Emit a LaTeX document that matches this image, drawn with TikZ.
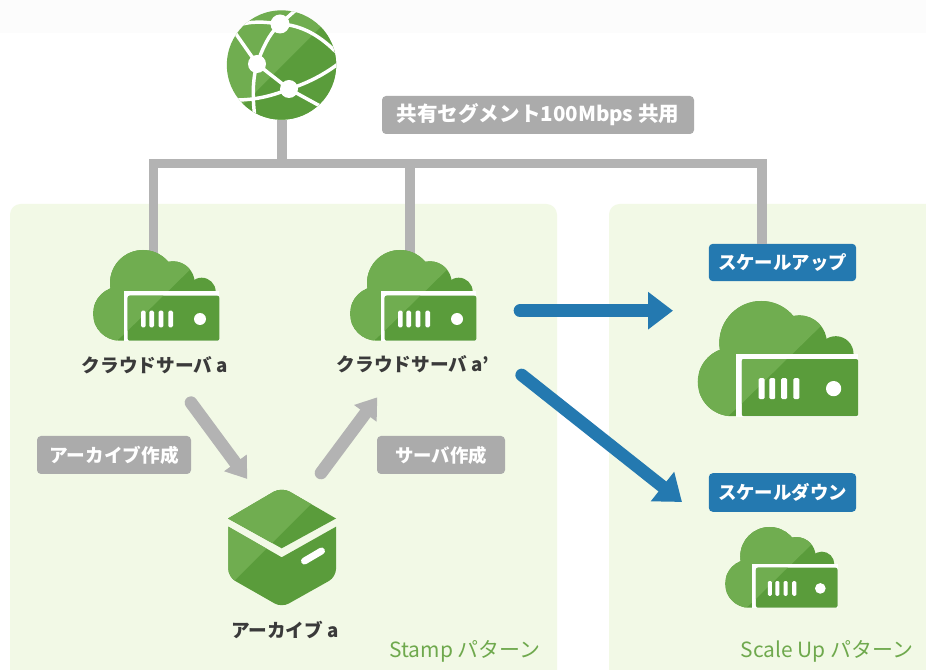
\documentclass[tikz,border=0pt]{standalone}
\usepackage{fontspec}
\setmainfont{Noto Sans CJK JP}
\usetikzlibrary{arrows.meta}
\definecolor{lightg}{HTML}{70AD50}
\definecolor{darkg}{HTML}{5A9C3B}
\definecolor{panelg}{HTML}{F2F9E6}
\definecolor{greyline}{HTML}{B3B3B3}
\definecolor{greylab}{HTML}{ABABAB}
\definecolor{bluec}{HTML}{2479B0}
\definecolor{txtg}{HTML}{6FA94D}
\definecolor{txtd}{HTML}{3A3A3A}
\tikzset{
  panel/.style={fill=panelg,draw=none,rounded corners=8pt},
  wire/.style={draw=greyline,line width=7pt,line join=miter},
  greytag/.style={fill=greylab,text=white,rounded corners=3pt,inner sep=0pt,font=\fontsize{14pt}{16pt}\selectfont\bfseries,anchor=center},
  bluetag/.style={fill=bluec,text=white,rounded corners=3pt,inner sep=0pt,font=\fontsize{13.8pt}{16pt}\selectfont\bfseries,anchor=center},
  caption/.style={text=txtd,font=\fontsize{14pt}{15pt}\selectfont\bfseries,inner sep=0pt},
  patternlab/.style={text=txtg,font=\fontsize{15.7pt}{17pt}\selectfont,inner sep=0pt},
  greyarrow/.style={draw=greyline,line width=9.5pt,line cap=round,-{Triangle[width=20pt,length=15pt]}},
  bluearrow/.style={draw=bluec,line width=9.5pt,line cap=round,-{Triangle[width=27pt,length=18.7pt]}},
  iconbox/.style={inner sep=0pt,minimum width=#1*94.5pt,minimum height=#1*70pt,draw=none},
}
% #1 x, #2 y, #3 scale
\newcommand{\cloudsrv}[3]{%
\begin{scope}[shift={(#1,#2)},scale=#3]
  \begin{scope}
    \clip (49,33) circle[radius=33] (26,63.7) circle[radius=27] (79,33) circle[radius=21.7]
          (107.7,41.7) circle[radius=14] (108,30) rectangle (26,90.7);
    \fill[darkg] (0,0) rectangle (130,95);
    \fill[lightg] (-20,130) -- (32.7,81.7) -- (97.7,18) -- (120,-5) -- (-20,-5) -- cycle;
  \end{scope}
  \fill[white] (29.5,41.5) rectangle (125.3,91);
  \begin{scope}
    \clip[rounded corners=1.5pt] (33.7,45.7) rectangle (125.3,90.7);
    \fill[darkg] (30,40) rectangle (130,95);
    \fill[lightg] (28,87) -- (32.7,81.7) -- (75,40) -- (28,40) -- cycle;
  \end{scope}
  \foreach \bx in {49.3,57.7,67,76.7}{
    \fill[white,rounded corners=1pt] (\bx-2.3,60.7) rectangle (\bx+2.3,77.3);
  }
  \fill[white] (106,69) circle[radius=6];
\end{scope}}
\begin{document}
\begin{tikzpicture}[x=0.75pt,y=-0.75pt]
\useasboundingbox (0,0) rectangle (926,670);
\fill[white] (0,0) rectangle (926,670);
\fill[black!1] (0,0) rectangle (926,33);
\fill[panel] (10,204) rectangle (557,690);
\fill[panel] (609,204) rectangle (960,690);
\clip (0,0) rectangle (926,670);

% anchors of the icons
\node[circle,minimum size=82pt,inner sep=0pt] (globe) at (282,65) {};
\node[iconbox=1] (srvA) at (157,296) {};
\node[iconbox=1] (srvB) at (414,296) {};
\node[iconbox=1.27] (srvUp) at (779,360) {};
\node[iconbox=0.89] (srvDown) at (782,568) {};
\node[minimum width=81pt,minimum height=88pt,inner sep=0pt] (arch) at (282,547) {};
\coordinate (busL) at (153.3,163.5);
\coordinate (busM) at (282,163.5);
\coordinate (busB) at (410,163.5);
\coordinate (busR) at (762,163.5);
\coordinate (dropL) at (153.3,255);
\coordinate (dropB) at (410,255);

% tags
\node[bluetag,minimum width=110.5pt,minimum height=28pt] (tagUp) at (782.5,262.5) {スケールアップ};
\node[bluetag,minimum width=110.5pt,minimum height=29pt] (tagDown) at (782.5,492.5) {スケールダウン};

% wires
\draw[wire] (dropL) -- (busL) -- (busR) -- (tagUp.north -| busR);
\draw[wire] (globe.south) -- (busM);
\draw[wire] (busB) -- (dropB);

\node[greytag,font=\fontsize{15.4pt}{16pt}\selectfont\bfseries,minimum width=234pt,minimum height=28.5pt] (shared) at (538,115) {共有セグメント100Mbps 共用};

% globe
\begin{scope}
  \clip (281.5,65) circle[radius=54.7];
  \fill[lightg] (225,8) rectangle (338,122);
  \fill[darkg] (240,108) -- (255,93) -- (323,25) -- (345,10) -- (345,125) -- (240,125) -- cycle;
  \begin{scope}[white,line width=2.6pt]
    \draw (234,27) .. controls (250,20) and (265,22) .. (280,24);
    \draw (280,24) .. controls (300,25) and (318,34) .. (336,52);
    \draw (280,24) .. controls (268,35) and (262,50) .. (257,64);
    \draw (280,24) -- (298,8);
    \draw (236,34) -- (257,64);
    \draw (257,64) -- (289,89);
    \draw (257,64) .. controls (253,78) and (252,95) .. (255,118);
    \draw (236,100) .. controls (255,100) and (272,96) .. (289,89);
    \draw (289,89) -- (320,106);
    \draw (289,89) .. controls (305,84) and (322,76) .. (338,64);
  \end{scope}
  \fill[white] (280,24) circle[radius=9.5] (257,64) circle[radius=9] (289,89) circle[radius=9];
\end{scope}

% servers
\cloudsrv{94}{250}{1}
\cloudsrv{351}{250}{1}
\cloudsrv{699}{301}{1.27}
\cloudsrv{726}{527}{0.89}

% archive box
\begin{scope}
  \clip (228,518.5) [rounded corners=7pt] -- (281.7,487) [sharp corners] -- (336,518.5) -- (281.7,548.3) -- cycle;
  \fill[darkg] (220,480) rectangle (345,555);
  \fill[lightg] (220,480) -- (335,480) -- (225,590) -- (215,590) -- cycle;
\end{scope}
\begin{scope}
  \clip (228.3,526.7) -- (281.7,557.3) -- (336,526.7) [rounded corners=6pt] -- (336,577) -- (281.7,607.5) -- (228.3,577) [sharp corners] -- cycle;
  \fill[darkg] (220,520) rectangle (345,612);
  \fill[lightg] (220,595) -- (310,505) -- (220,505) -- cycle;
\end{scope}
\draw[white,line width=5.2pt,line cap=round] (304.5,561) -- (321.5,551);

% captions
\node[caption] (capA) at (155,365) {クラウドサーバ a};
\node[caption] (capB) at (413,364) {クラウドサーバ a'};
\node[caption] (capArch) at (285,630) {アーカイブ a};
\node[patternlab] (stamp) at (465,651) {Stamp パターン};
\node[patternlab] (scaleup) at (827,651) {Scale Up パターン};

% arrows
\coordinate (a1s) at (191,402.7); \coordinate (a1e) at (247.3,479);
\coordinate (a2s) at (321,473); \coordinate (a2e) at (377.3,397.3);
\coordinate (b1s) at (520,310.7); \coordinate (b1e) at (673,310.7);
\coordinate (b2s) at (521.7,375); \coordinate (b2e) at (682,502);
\draw[greyarrow] (a1s) -- (a1e);
\draw[greyarrow] (a2s) -- (a2e);
\draw[bluearrow] (b1s) -- (b1e);
\draw[bluearrow] (b2s) -- (b2e);

\node[greytag,minimum width=115.5pt,minimum height=28.5pt] (tagArch) at (114,455) {アーカイブ作成};
\node[greytag,font=\fontsize{13.8pt}{16pt}\selectfont\bfseries,minimum width=96pt,minimum height=28.5pt] (tagSrv) at (441,455) {サーバ作成};
\end{tikzpicture}
\end{document}
